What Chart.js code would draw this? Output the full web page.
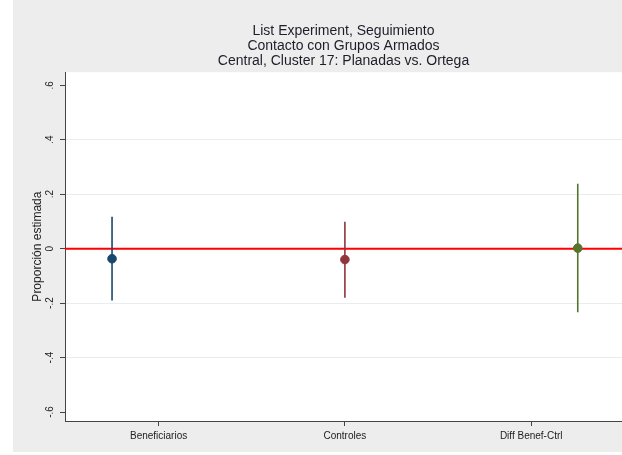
<!DOCTYPE html>
<html>
<head>
<meta charset="utf-8">
<script src="https://cdn.jsdelivr.net/npm/chart.js@4.4.0/dist/chart.umd.min.js"></script>
<style>
  html, body { margin: 0; padding: 0; background: #fff; }
  #wrap { width: 622px; height: 455px; }
</style>
</head>
<body>
<div id="wrap"><canvas id="chart" width="622" height="455"></canvas></div>
<script>
// ─── Données ───────────────────────────────────────────────────────────────
const titleLines = ['List Experiment, Seguimiento', 'Contacto con Grupos Armados', 'Central, Cluster 17: Planadas vs. Ortega'];
const categories = ['Beneficiarios', 'Controles', 'Diff Benef-Ctrl'];
const pointX     = [1, 2, 3];          // position des estimations
const labelX     = [1.2, 2, 2.8];      // position des libelles de l'axe x
const estimates  = [-0.037, -0.040, 0.002];
const ciLow      = [-0.190, -0.180, -0.234];
const ciHigh     = [0.117, 0.099, 0.238];
const yTicks     = [-0.6, -0.4, -0.2, 0, 0.2, 0.4, 0.6];
const yTickLabels = ['-.6', '-.4', '-.2', '0', '.2', '.4', '.6'];
const colors     = ['#1a476f', '#90353b', '#55752f'];

const FONT = 'Arial, "Liberation Sans", sans-serif';

const datasets = [];
// Ligne de reference en y = 0
datasets.push({
  type: 'line',
  data: [{ x: 0.79, y: 0 }, { x: 3.2, y: 0 }],
  borderColor: '#ff0000', borderWidth: 2, pointRadius: 0, order: 3,
});
// Intervalles de confiance
categories.forEach((c, i) => {
  datasets.push({
    type: 'line',
    data: [{ x: pointX[i], y: ciLow[i] }, { x: pointX[i], y: ciHigh[i] }],
    borderColor: colors[i], borderWidth: 1.6, pointRadius: 0, order: 2,
  });
});
// Estimations ponctuelles
categories.forEach((c, i) => {
  datasets.push({
    type: 'scatter',
    data: [{ x: pointX[i], y: estimates[i] }],
    backgroundColor: colors[i], borderColor: colors[i], pointRadius: 4.3, order: 1,
  });
});

// Fond gris style Stata + libelles y pivotes
const stataBg = {
  id: 'stataBg',
  beforeDraw(chart) {
    const { ctx, chartArea: a } = chart;
    ctx.save();
    ctx.fillStyle = '#ededed';
    ctx.fillRect(13, 0, chart.width - 13, 452);
    ctx.fillStyle = '#ffffff';
    ctx.fillRect(a.left, a.top, a.right - a.left, a.bottom - a.top);
    ctx.restore();
  },
  afterDraw(chart) {
    const { ctx } = chart;
    const y = chart.scales.y;
    ctx.save();
    ctx.fillStyle = '#222';
    ctx.font = '10px ' + FONT;
    ctx.textAlign = 'center';
    ctx.textBaseline = 'middle';
    yTicks.forEach((v, i) => {
      ctx.save();
      ctx.translate(50, y.getPixelForValue(v));
      ctx.rotate(-Math.PI / 2);
      ctx.fillText(yTickLabels[i], 0, 0);
      ctx.restore();
    });
    ctx.restore();
  },
};

new Chart(document.getElementById('chart'), {
  data: { datasets },
  plugins: [stataBg],
  options: {
    responsive: false,
    animation: false,
    layout: { padding: 0, autoPadding: false },
    plugins: {
      legend: { display: false },
      tooltip: { enabled: false },
      title: {
        display: true,
        text: titleLines,
        fullSize: false,
        color: '#1e1e2a',
        font: { family: FONT, size: 14, weight: 'normal', lineHeight: 1.1 },
        padding: { top: 23, bottom: 3 },
      },
    },
    scales: {
      x: {
        type: 'linear', min: 0.798, max: 3.19,
        afterFit: s => { s.height = 34; s.paddingLeft = 0; s.paddingRight = 0; },
        afterBuildTicks: s => { s.ticks = labelX.map(v => ({ value: v })); },
        ticks: {
          color: '#222', font: { family: FONT, size: 10 }, padding: 4,
          maxRotation: 0, autoSkip: false,
          callback: v => categories[labelX.indexOf(v)] ?? '',
        },
        grid: { display: true, drawOnChartArea: false, tickLength: 5, tickColor: '#444' },
        border: { color: '#444', width: 1 },
      },
      y: {
        type: 'linear', min: -0.633, max: 0.648,
        afterFit: s => { s.width = 65; s.paddingTop = 0; s.paddingBottom = 0; },
        afterBuildTicks: s => { s.ticks = yTicks.map(v => ({ value: v })); },
        ticks: { display: false },
        grid: {
          tickLength: 5, tickColor: '#444',
          color: ctx => (ctx.tick && Math.abs(ctx.tick.value) > 0.01 && Math.abs(ctx.tick.value) < 0.5) ? '#e8eef0' : 'rgba(0,0,0,0)',
        },
        border: { color: '#444', width: 1 },
        title: {
          display: true, text: 'Proporción estimada', color: '#222',
          font: { family: FONT, size: 12 }, padding: { top: 30, bottom: 0 },
        },
      },
    },
  },
});
</script>
</body>
</html>
